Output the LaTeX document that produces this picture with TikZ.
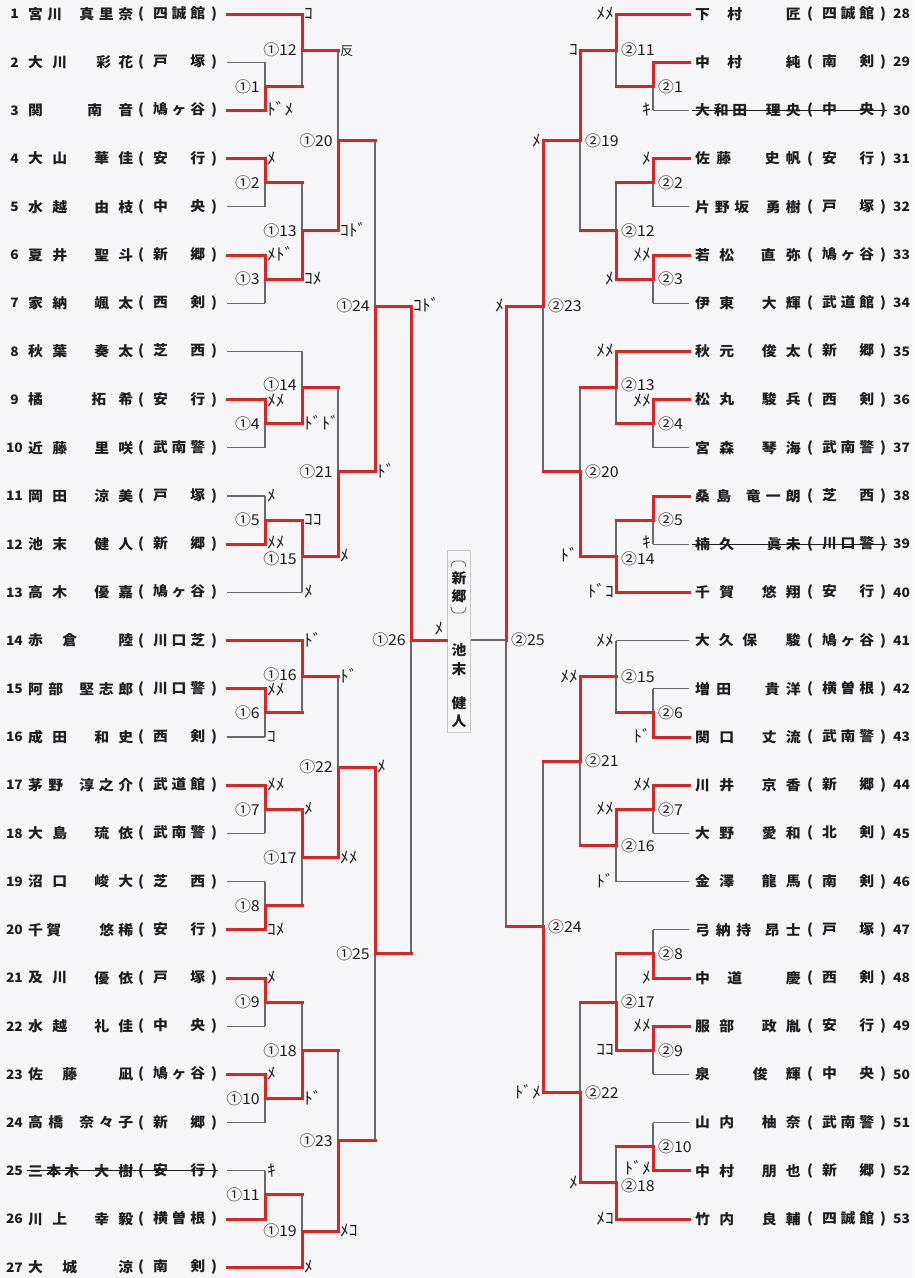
\documentclass[tikz,border=0pt]{standalone}
\usepackage{fontspec}
\setmainfont{Noto Sans CJK JP}
\newfontfamily\jp{Noto Sans CJK JP}[FakeStretch=1.06]
\definecolor{lred}{RGB}{214,38,38}
\definecolor{lgr}{RGB}{105,105,105}
\definecolor{ink}{RGB}{30,30,30}
\definecolor{paper}{RGB}{246,246,248}
\definecolor{boxgr}{RGB}{200,200,200}
\pgfdeclarelayer{bg}\pgfsetlayers{bg,main}
\tikzset{
 gl/.style={draw=lgr, line width=1.1pt},
 rl/.style={draw=lred, line width=3pt, line cap=rect},
 nm/.style={inner sep=0pt, text=ink, font=\jp\bfseries\fontsize{14}{16}\selectfont},
 num/.style={inner sep=0pt, text=ink, font=\jp\bfseries\fontsize{13}{15}\selectfont},
 lab/.style={inner sep=0pt, text height=11.5pt, text depth=0pt, text=ink, font=\jp\fontsize{15}{17}\selectfont},
 mk/.style={inner sep=0pt, text height=11pt, text depth=0pt, text=ink, font=\jp\fontsize{16.5}{18}\selectfont},
 strike/.style={draw=ink, line width=1.1pt},
 bkt/.style={draw=lgr, line width=0.8pt},
}
\newcommand\bx[2]{\makebox[#1pt]{#2}}
\newcommand\club[1]{(\hspace{9pt}\makebox[52pt]{#1}\hspace{6pt})}
\newcommand\Lp[4]{%
 \path (227,{14+(#1-1)*48.2}) coordinate (P#1);
 \node[num] (L#1n) at (14.5,{14+(#1-1)*48.2}) {#1};
 \node[nm,anchor=west] (L#1f) at (28,{14+(#1-1)*48.2}) {#2};
 \node[nm,anchor=east] (L#1g) at (133.5,{14+(#1-1)*48.2}) {#3};
 \node[nm,anchor=west] (L#1c) at (138,{14+(#1-1)*48.2}) {\club{#4}};}
\newcommand\Rp[4]{%
 \path (689,{14+(#1-28)*48.2}) coordinate (P#1);
 \node[nm,anchor=west] (R#1f) at (695,{14+(#1-28)*48.2}) {#2};
 \node[nm,anchor=east] (R#1g) at (801,{14+(#1-28)*48.2}) {#3};
 \node[nm,anchor=west] (R#1c) at (807,{14+(#1-28)*48.2}) {\club{#4}};
 \node[num,anchor=west] (R#1n) at (893,{14+(#1-28)*48.2}) {#1};}
\newcommand\seg[3]{\if g#1\begin{pgfonlayer}{bg}\draw[gl] (#2) -- (#3);\end{pgfonlayer}\else\draw[rl] (#2) -- (#3);\fi}
\newcommand\mt[7]{\seg{#3}{#2}{#2 -| #1}\seg{#4}{#2 -| #1}{#1}\seg{#6}{#5}{#5 -| #1}\seg{#7}{#5 -| #1}{#1}}
\newcommand\kL[5][0]{\node[mk,anchor=west,xshift=2pt,yshift=#1pt] (#2) at (#3 -| #4) {#5};}
\newcommand\kR[5][0]{\node[mk,anchor=east,xshift=-2pt,yshift=#1pt] (#2) at (#3 -| #4) {#5};}
\newcommand\lL[3][0]{\node[lab,anchor=east,xshift=-5pt,yshift=#1pt] (t#2) at (#2) {#3};}
\newcommand\lR[3][0]{\node[lab,anchor=west,xshift=5pt,yshift=#1pt] (t#2) at (#2) {#3};}
\begin{document}
\begin{tikzpicture}[x=1pt,y=-1pt]
\begin{pgfonlayer}{bg}
\fill[paper] (0,0) rectangle (914,1278);
\end{pgfonlayer}
\useasboundingbox (0,0) rectangle (914,1278);
% left players
\Lp{1}{\bx{34}{宮\hfill 川}}{\bx{54}{真\hfill 里\hfill 奈}}{四\hfill 誠\hfill 館}
\Lp{2}{\bx{39}{大\hfill 川}}{\bx{37}{彩\hfill 花}}{戸\hfill 塚}
\Lp{3}{関}{\bx{46}{南\hfill 音}}{鳩\hfill ヶ\hfill 谷}
\Lp{4}{\bx{39}{大\hfill 山}}{\bx{39}{華\hfill 佳}}{安\hfill 行}
\Lp{5}{\bx{39}{水\hfill 越}}{\bx{39}{由\hfill 枝}}{中\hfill 央}
\Lp{6}{\bx{39}{夏\hfill 井}}{\bx{39}{聖\hfill 斗}}{新\hfill 郷}
\Lp{7}{\bx{39}{家\hfill 納}}{\bx{39}{颯\hfill 太}}{西\hfill 剣}
\Lp{8}{\bx{39}{秋\hfill 葉}}{\bx{39}{奏\hfill 太}}{芝\hfill 西}
\Lp{9}{橘}{\bx{42}{拓\hfill 希}}{安\hfill 行}
\Lp{10}{\bx{39}{近\hfill 藤}}{\bx{39}{里\hfill 咲}}{武\hfill 南\hfill 警}
\Lp{11}{\bx{39}{岡\hfill 田}}{\bx{39}{涼\hfill 美}}{戸\hfill 塚}
\Lp{12}{\bx{39}{池\hfill 末}}{\bx{39}{健\hfill 人}}{新\hfill 郷}
\Lp{13}{\bx{39}{高\hfill 木}}{\bx{39}{優\hfill 嘉}}{鳩\hfill ヶ\hfill 谷}
\Lp{14}{\bx{49}{赤\hfill 倉}}{陸}{川\hfill 口\hfill 芝}
\Lp{15}{\bx{35}{阿\hfill 部}}{\bx{54}{堅\hfill 志\hfill 郎}}{川\hfill 口\hfill 警}
\Lp{16}{\bx{39}{成\hfill 田}}{\bx{39}{和\hfill 史}}{西\hfill 剣}
\Lp{17}{\bx{35}{茅\hfill 野}}{\bx{54}{淳\hfill 之\hfill 介}}{武\hfill 道\hfill 館}
\Lp{18}{\bx{39}{大\hfill 島}}{\bx{39}{琉\hfill 依}}{武\hfill 南\hfill 警}
\Lp{19}{\bx{39}{沼\hfill 口}}{\bx{39}{峻\hfill 大}}{芝\hfill 西}
\Lp{20}{\bx{33}{千\hfill 賀}}{\bx{34}{悠\hfill 稀}\hspace{25pt}}{安\hfill 行}
\Lp{21}{\bx{39}{及\hfill 川}}{\bx{39}{優\hfill 依}}{戸\hfill 塚}
\Lp{22}{\bx{39}{水\hfill 越}}{\bx{39}{礼\hfill 佳}}{中\hfill 央}
\Lp{23}{\bx{49}{佐\hfill 藤}}{凪}{鳩\hfill ヶ\hfill 谷}
\Lp{24}{\bx{35}{高\hfill 橋}}{\bx{54}{奈\hfill 々\hfill 子}}{新\hfill 郷}
\Lp{25}{\bx{51}{三\hfill 本\hfill 木}}{\bx{39}{大\hfill 樹}}{安\hfill 行}
\Lp{26}{\bx{39}{川\hfill 上}}{\bx{39}{幸\hfill 毅}}{横\hfill 曽\hfill 根}
\Lp{27}{\bx{49}{大\hfill 城}}{涼}{南\hfill 剣}
% right players
\Rp{28}{\bx{47}{下\hfill 村}}{匠}{四\hfill 誠\hfill 館}
\Rp{29}{\bx{47}{中\hfill 村}}{純}{南\hfill 剣}
\Rp{30}{\bx{52}{大\hfill 和\hfill 田}}{\bx{35}{理\hfill 央}}{中\hfill 央}
\Rp{31}{\bx{36}{佐\hfill 藤}}{\bx{36}{史\hfill 帆}\hspace{15pt}}{安\hfill 行}
\Rp{32}{\bx{54}{片\hfill 野\hfill 坂}}{\bx{35}{勇\hfill 樹}}{戸\hfill 塚}
\Rp{33}{\bx{39}{若\hfill 松}}{\bx{40}{直\hfill 弥}}{鳩\hfill ヶ\hfill 谷}
\Rp{34}{\bx{39}{伊\hfill 東}}{\bx{39}{大\hfill 輝}}{武\hfill 道\hfill 館}
\Rp{35}{\bx{39}{秋\hfill 元}}{\bx{39}{俊\hfill 太}}{新\hfill 郷}
\Rp{36}{\bx{39}{松\hfill 丸}}{\bx{39}{駿\hfill 兵}}{西\hfill 剣}
\Rp{37}{\bx{39}{宮\hfill 森}}{\bx{39}{琴\hfill 海}}{武\hfill 南\hfill 警}
\Rp{38}{\bx{36}{桑\hfill 島}}{\bx{55}{竜\hfill 一\hfill 朗}}{芝\hfill 西}
\Rp{39}{\bx{39}{楠\hfill 久}}{\bx{34}{眞\hfill 未}}{川\hfill 口\hfill 警}
\Rp{40}{\bx{39}{千\hfill 賀}}{\bx{39}{悠\hfill 翔}}{安\hfill 行}
\Rp{41}{\bx{62}{大\hfill 久\hfill 保}}{駿}{鳩\hfill ヶ\hfill 谷}
\Rp{42}{\bx{36}{増\hfill 田}}{\bx{36}{貴\hfill 洋}\hspace{12pt}}{横\hfill 曽\hfill 根}
\Rp{43}{\bx{39}{関\hfill 口}}{\bx{39}{丈\hfill 流}}{武\hfill 南\hfill 警}
\Rp{44}{\bx{39}{川\hfill 井}}{\bx{39}{京\hfill 香}}{新\hfill 郷}
\Rp{45}{\bx{39}{大\hfill 野}}{\bx{39}{愛\hfill 和}}{北\hfill 剣}
\Rp{46}{\bx{39}{金\hfill 澤}}{\bx{39}{龍\hfill 馬}}{南\hfill 剣}
\Rp{47}{\bx{56}{弓\hfill 納\hfill 持}}{\bx{36}{昂\hfill 士}\hspace{3pt}}{戸\hfill 塚}
\Rp{48}{\bx{47}{中\hfill 道}}{慶}{西\hfill 剣}
\Rp{49}{\bx{39}{服\hfill 部}}{\bx{39}{政\hfill 胤}}{安\hfill 行}
\Rp{50}{泉}{\bx{48}{俊\hfill 輝}}{中\hfill 央}
\Rp{51}{\bx{39}{山\hfill 内}}{\bx{39}{柚\hfill 奈}}{武\hfill 南\hfill 警}
\Rp{52}{\bx{39}{中\hfill 村}}{\bx{39}{朋\hfill 也}}{新\hfill 郷}
\Rp{53}{\bx{39}{竹\hfill 内}}{\bx{39}{良\hfill 輔}}{四\hfill 誠\hfill 館}
% strike-through (withdrawn)
\draw[strike] ([xshift=-1pt]L25f.west) -- ([xshift=1pt]L25c.east);
\draw[strike] ([xshift=-3pt]R30f.west) -- ([xshift=1pt]R30c.east);
\draw[strike] ([xshift=-3pt]R39f.west) -- ([xshift=1pt]R39c.east);
% match points
\coordinate (m1) at (265,86.3); \coordinate (m2) at (265,182.7); \coordinate (m3) at (265,279.1);
\coordinate (m4) at (265,423.7); \coordinate (m5) at (265,520.1); \coordinate (m6) at (265,712.9);
\coordinate (m7) at (265,809.3); \coordinate (m8) at (265,905.7); \coordinate (m9) at (265,1002.1);
\coordinate (m10) at (265,1098.5); \coordinate (m11) at (265,1194.9);
\coordinate (m12) at (302,50.15); \coordinate (m13) at (302,230.9); \coordinate (m14) at (302,387.55);
\coordinate (m15) at (302,556.25); \coordinate (m16) at (302,676.75); \coordinate (m17) at (302,857.5);
\coordinate (m18) at (302,1050.3); \coordinate (m19) at (302,1231.05);
\coordinate (m20) at (338,140.5); \coordinate (m21) at (338,471.9); \coordinate (m22) at (338,767.1);
\coordinate (m23) at (338,1140.7);
\coordinate (m24) at (375,306.2); \coordinate (m25) at (375,953.9); \coordinate (m26) at (411,640);
\coordinate (n1) at (653,86.3); \coordinate (n2) at (653,182.7); \coordinate (n3) at (653,279.1);
\coordinate (n4) at (653,423.7); \coordinate (n5) at (653,520.1); \coordinate (n6) at (653,712.9);
\coordinate (n7) at (653,809.3); \coordinate (n8) at (653,953.9); \coordinate (n9) at (653,1050.3);
\coordinate (n10) at (653,1146.7);
\coordinate (n11) at (616,50.15); \coordinate (n12) at (616,230.9); \coordinate (n13) at (616,387.55);
\coordinate (n14) at (616,556.25); \coordinate (n15) at (616,676.75); \coordinate (n16) at (616,845.45);
\coordinate (n17) at (616,1002.1); \coordinate (n18) at (616,1182.85);
\coordinate (n19) at (580,140.5); \coordinate (n20) at (580,471.9); \coordinate (n21) at (580,761.1);
\coordinate (n22) at (580,1092.5);
\coordinate (n23) at (543,306.2); \coordinate (n24) at (543,926.8); \coordinate (n25) at (506,640);
% left bracket
\mt{m1}{P2}{g}{g}{P3}{r}{r}
\mt{m2}{P4}{r}{r}{P5}{g}{g}
\mt{m3}{P6}{r}{r}{P7}{g}{g}
\mt{m4}{P9}{r}{r}{P10}{g}{g}
\mt{m5}{P11}{g}{g}{P12}{r}{r}
\mt{m6}{P15}{r}{r}{P16}{g}{g}
\mt{m7}{P17}{r}{r}{P18}{g}{g}
\mt{m8}{P19}{g}{g}{P20}{r}{r}
\mt{m9}{P21}{r}{r}{P22}{g}{g}
\mt{m10}{P23}{r}{r}{P24}{g}{g}
\mt{m11}{P25}{g}{g}{P26}{r}{r}
\mt{m12}{P1}{r}{r}{m1}{r}{g}
\mt{m13}{m2}{r}{g}{m3}{r}{r}
\mt{m14}{P8}{g}{g}{m4}{r}{r}
\mt{m15}{m5}{r}{r}{P13}{g}{g}
\mt{m16}{P14}{r}{r}{m6}{r}{g}
\mt{m17}{m7}{r}{r}{m8}{r}{g}
\mt{m18}{m9}{r}{g}{m10}{r}{r}
\mt{m19}{m11}{r}{g}{P27}{r}{r}
\mt{m20}{m12}{r}{g}{m13}{r}{r}
\mt{m21}{m14}{r}{g}{m15}{r}{r}
\mt{m22}{m16}{r}{g}{m17}{r}{r}
\mt{m23}{m18}{r}{g}{m19}{r}{r}
\mt{m24}{m20}{r}{g}{m21}{r}{r}
\mt{m25}{m22}{r}{r}{m23}{r}{g}
\mt{m26}{m24}{r}{r}{m25}{r}{g}
% right bracket
\mt{n1}{P29}{r}{r}{P30}{g}{g}
\mt{n2}{P31}{r}{r}{P32}{g}{g}
\mt{n3}{P33}{r}{r}{P34}{g}{g}
\mt{n4}{P36}{r}{r}{P37}{g}{g}
\mt{n5}{P38}{r}{r}{P39}{g}{g}
\mt{n6}{P42}{g}{g}{P43}{r}{r}
\mt{n7}{P44}{r}{r}{P45}{g}{g}
\mt{n8}{P47}{g}{g}{P48}{r}{r}
\mt{n9}{P49}{r}{r}{P50}{g}{g}
\mt{n10}{P51}{g}{g}{P52}{r}{r}
\mt{n11}{P28}{r}{r}{n1}{r}{g}
\mt{n12}{n2}{r}{g}{n3}{r}{r}
\mt{n13}{P35}{r}{r}{n4}{r}{g}
\mt{n14}{n5}{r}{g}{P40}{r}{r}
\mt{n15}{P41}{g}{g}{n6}{r}{g}
\mt{n16}{n7}{r}{r}{P46}{g}{g}
\mt{n17}{n8}{r}{g}{n9}{r}{r}
\mt{n18}{n10}{r}{g}{P53}{r}{r}
\mt{n19}{n11}{r}{r}{n12}{r}{g}
\mt{n20}{n13}{r}{g}{n14}{r}{r}
\mt{n21}{n15}{r}{r}{n16}{r}{g}
\mt{n22}{n17}{r}{g}{n18}{r}{r}
\mt{n23}{n19}{r}{r}{n20}{r}{g}
\mt{n24}{n21}{r}{g}{n22}{r}{r}
\mt{n25}{n23}{r}{r}{n24}{r}{g}
% champion box
\node[draw=boxgr, line width=0.8pt, minimum width=23pt, minimum height=182pt, inner sep=0pt] (box) at (458.5,641) {};
\seg{r}{m26}{m26 -| box.west}
\seg{g}{n25}{n25 -| box.east}
\node[nm] (c1) at (459,578) {新};
\node[nm] (c2) at (459,596) {郷};
\node[nm] (c3) at (459,650) {池};
\node[nm] (c4) at (459,669) {末};
\node[nm] (c5) at (459,703) {健};
\node[nm] (c6) at (459,721) {人};
\draw[bkt] (451,567) to[out=90,in=180] (455,561) -- (462,561) to[out=0,in=90] (466,567);
\draw[bkt] (451,607) to[out=-90,in=180] (455,613) -- (462,613) to[out=0,in=-90] (466,607);
% match labels
\lL{m1}{①1} \lL{m2}{①2} \lL{m3}{①3} \lL{m4}{①4} \lL{m5}{①5} \lL{m6}{①6}
\lL{m7}{①7} \lL{m8}{①8} \lL{m9}{①9} \lL{m10}{①10} \lL{m11}{①11} \lL{m12}{①12}
\lL{m13}{①13} \lL[2.5]{m14}{①14} \lL[-2.5]{m15}{①15} \lL[2.5]{m16}{①16} \lL{m17}{①17} \lL{m18}{①18}
\lL{m19}{①19} \lL{m20}{①20} \lL{m21}{①21} \lL{m22}{①22} \lL{m23}{①23} \lL{m24}{①24}
\lL{m25}{①25} \lL{m26}{①26}
\lR{n1}{②1} \lR{n2}{②2} \lR{n3}{②3} \lR{n4}{②4} \lR{n5}{②5} \lR{n6}{②6}
\lR{n7}{②7} \lR{n8}{②8} \lR{n9}{②9} \lR{n10}{②10} \lR{n11}{②11} \lR{n12}{②12}
\lR[2.5]{n13}{②13} \lR[-2.5]{n14}{②14} \lR{n15}{②15} \lR{n16}{②16} \lR{n17}{②17} \lR[-2.5]{n18}{②18}
\lR{n19}{②19} \lR{n20}{②20} \lR{n21}{②21} \lR{n22}{②22} \lR{n23}{②23} \lR{n24}{②24}
\lR{n25}{②25}
% score marks left
\kL{k1}{P3}{m1}{ﾄﾞﾒ}
\kL{k2}{P1}{m12}{ｺ}
\kL{k3}{P4}{m2}{ﾒ}
\kL{k4}{P6}{m3}{ﾒﾄﾞ}
\kL{k5}{m3}{m13}{ｺﾒ}
\kL{k6}{m12}{m20}{\fontsize{12.5}{14}\selectfont 反}
\kL{k7}{m13}{m20}{ｺﾄﾞ}
\kL{k8}{m21}{m24}{ﾄﾞ}
\kL{k9}{m24}{m26}{ｺﾄﾞ}
\kL{k10}{m4}{m14}{ﾄﾞﾄﾞ}
\kL[-1.5]{k11}{P9}{m4}{ﾒﾒ}
\kL{k12}{P11}{m5}{ﾒ}
\kL[1.5]{k13}{P12}{m5}{ﾒﾒ}
\kL{k14}{m5}{m15}{ｺｺ}
\kL{k15}{P13}{m15}{ﾒ}
\kL{k16}{m15}{m21}{ﾒ}
\kL{k17}{P14}{m16}{ﾄﾞ}
\kL[-1.5]{k18}{P15}{m6}{ﾒﾒ}
\kL{k19}{P16}{m6}{ｺ}
\kL{k20}{m16}{m22}{ﾄﾞ}
\kL{k21}{m17}{m22}{ﾒﾒ}
\kL{k22}{m22}{m25}{ﾒ}
\kL{k23}{P17}{m7}{ﾒﾒ}
\kL{k24}{m7}{m17}{ﾒ}
\kL{k25}{P20}{m8}{ｺﾒ}
\kL{k26}{P21}{m9}{ﾒ}
\kL{k27}{P23}{m10}{ﾒ}
\kL{k28}{m10}{m18}{ﾄﾞ}
\kL{k29}{P25}{m11}{ｷ}
\kL{k30}{P27}{m19}{ﾒ}
\kL{k31}{m19}{m23}{ﾒｺ}
\node[mk] (k32) at (439,629) {ﾒ};
% score marks right
\kR{q1}{P30}{n1}{ｷ}
\kR{q2}{P28}{n11}{ﾒﾒ}
\kR{q3}{n11}{n19}{ｺ}
\kR{q4}{P31}{n2}{ﾒ}
\kR{q5}{P33}{n3}{ﾒﾒ}
\kR{q6}{n3}{n12}{ﾒ}
\kR{q7}{n19}{n23}{ﾒ}
\kR{q8}{n23}{n25}{ﾒ}
\kR{q9}{P35}{n13}{ﾒﾒ}
\kR[-1.5]{q10}{P36}{n4}{ﾒﾒ}
\kR{q11}{n14}{n20}{ﾄﾞ}
\kR[1.5]{q12}{P39}{n5}{ｷ}
\kR{q13}{P40}{n14}{ﾄﾞｺ}
\kR{q14}{P41}{n15}{ﾒﾒ}
\kR{q15}{n15}{n21}{ﾒﾒ}
\kR{q16}{P43}{n6}{ﾄﾞ}
\kR{q17}{P44}{n7}{ﾒﾒ}
\kR{q18}{n7}{n16}{ﾒﾒ}
\kR{q19}{P46}{n16}{ﾄﾞ}
\kR{q20}{n22}{n24}{ﾄﾞﾒ}
\kR{q21}{P48}{n8}{ﾒ}
\kR{q22}{n9}{n17}{ｺｺ}
\kR{q23}{P49}{n9}{ﾒﾒ}
\kR{q24}{n18}{n22}{ﾒ}
\kR[1.5]{q25}{P52}{n10}{ﾄﾞﾒ}
\kR{q26}{P53}{n18}{ﾒｺ}
\end{tikzpicture}
\end{document}
